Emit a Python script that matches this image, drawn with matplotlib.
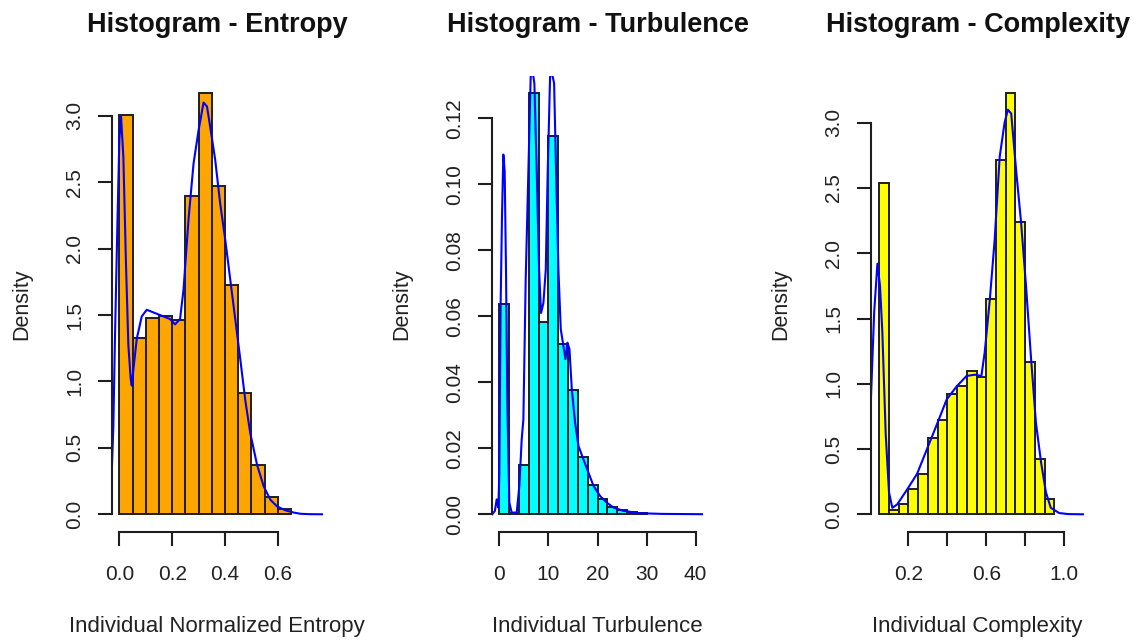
import numpy as np
import matplotlib
matplotlib.use("Agg")
import matplotlib.pyplot as plt

plt.rcParams['font.family'] = ['Liberation Sans', 'DejaVu Sans']

# ---- data ----
# Entropy histogram (bin width 0.05, from 0.0)
entropy_edges = np.arange(0.0, 0.651, 0.05)
entropy_density = [3.01, 1.33, 1.48, 1.49, 1.46, 2.40, 3.17, 2.47, 1.73, 0.91, 0.37, 0.13, 0.04]
entropy_kde_x = [-0.029, -0.0228, -0.0165, -0.0076, 0.0, 0.0063, 0.0152, 0.0253, 0.0342, 0.043,
                 0.0468, 0.0532, 0.0658, 0.0848, 0.1038, 0.129, 0.167, 0.192, 0.211, 0.230,
                 0.243, 0.262, 0.281, 0.300, 0.319, 0.332, 0.344, 0.363, 0.382, 0.401,
                 0.420, 0.439, 0.458, 0.477, 0.496, 0.522, 0.547, 0.572, 0.597, 0.629,
                 0.661, 0.686, 0.72, 0.78]
entropy_kde_y = [0.31, 0.66, 1.34, 2.17, 2.82, 3.0, 2.69, 1.87, 1.27, 1.02,
                 0.97, 1.09, 1.32, 1.49, 1.54, 1.52, 1.49, 1.47, 1.43, 1.47,
                 1.69, 2.22, 2.64, 2.89, 3.10, 3.07, 2.92, 2.67, 2.34, 2.07,
                 1.77, 1.47, 1.17, 0.86, 0.61, 0.37, 0.21, 0.11, 0.06, 0.03,
                 0.013, 0.004, 0.001, 0.0]

# Turbulence histogram (bin width 2, from 0)
turb_edges = np.arange(0, 31, 2)
turb_density = [0.0638, 0.0003, 0.0148, 0.1277, 0.0583, 0.1145, 0.0517, 0.0377,
                0.0173, 0.0088, 0.0046, 0.0021, 0.0014, 0.0008, 0.0004]
turb_kde_x = [-1.43, -0.9, -0.54, -0.2, 0.0, 0.27, 0.54, 0.82, 1.09, 1.36,
              1.63, 2.04, 2.52, 3.54, 4.08, 4.56, 4.90, 5.37, 5.92, 6.39,
              6.80, 7.14, 7.62, 8.10, 8.50, 8.98, 9.46, 9.86, 10.34, 10.68,
              11.16, 11.56, 12.04, 12.52, 13.06, 13.47, 13.88, 14.29, 14.76, 15.44,
              16.12, 17.14, 18.16, 19.18, 20.54, 21.90, 23.27, 25.31, 28.71, 33.0, 41.5]
turb_kde_y = [0.0, 0.001, 0.0045, 0.002, 0.012, 0.064, 0.090, 0.109, 0.104, 0.074,
              0.034, 0.0035, 0.0005, 0.0005, 0.0086, 0.0227, 0.0287, 0.071, 0.104, 0.1326,
              0.134, 0.1306, 0.104, 0.074, 0.061, 0.064, 0.074, 0.104, 0.1326, 0.134,
              0.1306, 0.104, 0.074, 0.056, 0.051, 0.047, 0.052, 0.050, 0.038, 0.0277,
              0.0207, 0.0166, 0.0126, 0.0086, 0.0055, 0.0035, 0.002, 0.001, 0.0003, 0.0001, 0.0]

# Complexity histogram (bin width 0.05, from 0.05)
compl_edges = np.arange(0.05, 0.951, 0.05)
compl_density = [2.54, 0.03, 0.076, 0.196, 0.306, 0.586, 0.726, 0.923, 0.986, 1.096,
                 1.05, 1.65, 2.715, 3.225, 2.243, 1.165, 0.426, 0.115]
compl_kde_x = [0.0087, 0.025, 0.0415, 0.055, 0.067, 0.084, 0.101, 0.118, 0.143, 0.194,
               0.245, 0.296, 0.347, 0.397, 0.448, 0.499, 0.542, 0.575, 0.592, 0.618,
               0.643, 0.669, 0.694, 0.711, 0.728, 0.753, 0.779, 0.804, 0.830, 0.855,
               0.881, 0.906, 0.931, 0.974, 1.02, 1.11]
compl_kde_y = [0.90, 1.55, 1.92, 1.75, 1.39, 0.62, 0.17, 0.05, 0.076, 0.19,
               0.31, 0.50, 0.69, 0.88, 0.98, 1.06, 1.07, 1.06, 1.24, 1.64,
               2.10, 2.74, 3.0, 3.10, 3.07, 2.64, 2.23, 1.75, 1.19, 0.70,
               0.40, 0.17, 0.05, 0.01, 0.002, 0.0]

titles = ["Histogram - Entropy", "Histogram - Turbulence", "Histogram - Complexity"]
xlabels = ["Individual Normalized Entropy", "Individual Turbulence", "Individual Complexity"]
fills = ["#FFA500", "#00FFFF", "#FFFF00"]

yticks = [np.arange(0, 3.01, 0.5), np.arange(0, 0.121, 0.02), np.arange(0, 3.01, 0.5)]
ytick_labels = [["0.0", "0.5", "1.0", "1.5", "2.0", "2.5", "3.0"],
                ["0.00", "0.02", "0.04", "0.06", "0.08", "0.10", "0.12"],
                ["0.0", "0.5", "1.0", "1.5", "2.0", "2.5", "3.0"]]
xticks = [[0.0, 0.2, 0.4, 0.6], [0, 10, 20, 30, 40], [0.2, 0.4, 0.6, 0.8, 1.0]]
xtick_labels = [["0.0", "0.2", "0.4", "0.6"], ["0", "10", "20", "30", "40"],
                ["0.2", "", "0.6", "", "1.0"]]

# ---- layout (pixels) ----
W, H = 1137, 640
TOP, BOTTOM = 76.0, 531.7
panel_px = [(111.7, 322.6), (492.3, 702.7), (871.0, 1084.3)]
xlims = [(-0.029, 0.77), (-1.43, 41.43), (0.0087, 1.103)]
ylims = [(-0.131, 3.30), (-0.0053, 0.1328), (-0.133, 3.358)]
ylabel_px = [21.7, 402.0, 781.0]

INK = "#1e1e1e"

fig = plt.figure(figsize=(W / 100, H / 100), dpi=100)

hists = [(entropy_edges, entropy_density, entropy_kde_x, entropy_kde_y),
         (turb_edges, turb_density, turb_kde_x, turb_kde_y),
         (compl_edges, compl_density, compl_kde_x, compl_kde_y)]

for i, (edges, dens, kx, ky) in enumerate(hists):
    l, r = panel_px[i]
    ax = fig.add_axes([l / W, (H - BOTTOM) / H, (r - l) / W, (BOTTOM - TOP) / H])
    ax.bar(edges[:-1], dens, width=np.diff(edges), align="edge",
           color=fills[i], edgecolor=INK, linewidth=1.4)
    ax.plot(kx, ky, color="#0000FF", linewidth=1.5)
    ax.set_xlim(*xlims[i])
    ax.set_ylim(*ylims[i])

    for s in ["top", "right"]:
        ax.spines[s].set_visible(False)
    for s in ["left", "bottom"]:
        ax.spines[s].set_linewidth(1.5)
        ax.spines[s].set_color(INK)
    ax.spines["left"].set_bounds(yticks[i][0], yticks[i][-1])
    ax.spines["bottom"].set_bounds(xticks[i][0], xticks[i][-1])

    ax.set_yticks(yticks[i])
    ax.set_yticklabels(ytick_labels[i], rotation=90, va="center")
    ax.set_xticks(xticks[i])
    ax.set_xticklabels(xtick_labels[i])
    ax.tick_params(axis="both", direction="out", length=10, width=1.5, color=INK,
                   labelsize=15, labelcolor="#222222")
    ax.tick_params(axis="y", pad=10)
    ax.tick_params(axis="x", pad=14)
    ax.patch.set_alpha(0)

    cx = (l + r) / 2
    fig.text(cx / W, 1 - 25 / H, titles[i], ha="center", va="center",
             fontsize=19.5, fontweight="bold", color="#111111")
    fig.text(cx / W, 1 - 626.7 / H, xlabels[i], ha="center", va="center",
             fontsize=16, color="#222222")
    fig.text(ylabel_px[i] / W, 1 - (TOP + BOTTOM) / 2 / H, "Density", ha="center",
             va="center", rotation=90, fontsize=15.5, color="#222222")

fig.savefig("out.png", dpi=100)
